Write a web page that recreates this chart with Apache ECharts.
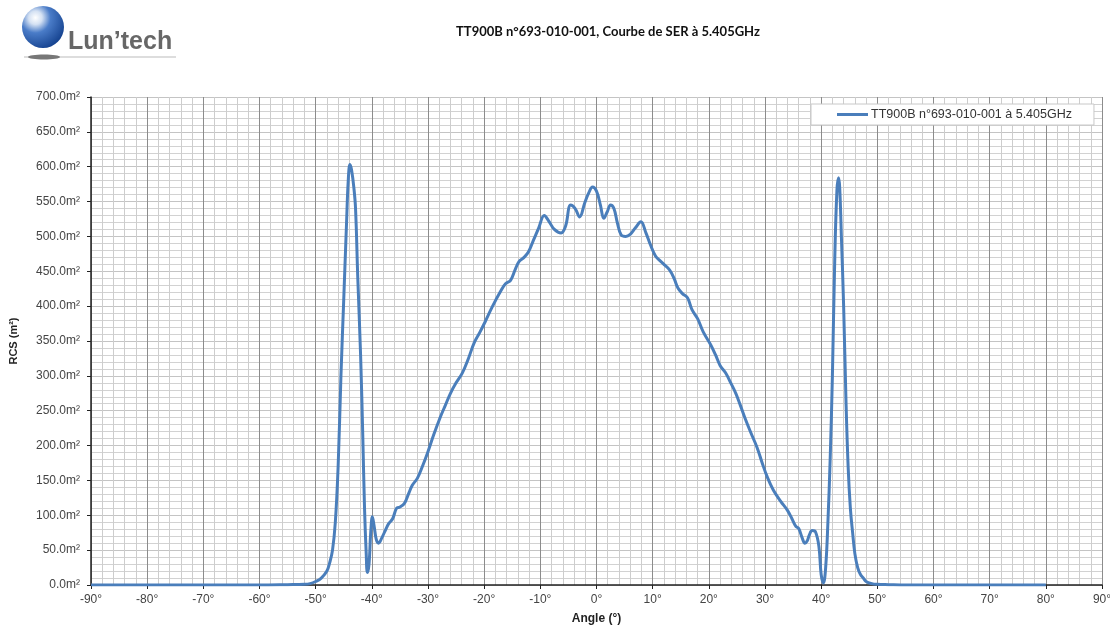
<!DOCTYPE html>
<html>
<head>
<meta charset="utf-8">
<script src="https://cdn.jsdelivr.net/npm/echarts@6/dist/echarts.min.js"></script>
<style>html,body{margin:0;padding:0;background:#fff;}#c{width:1110px;height:627px;}</style>
</head>
<body>
<div id="c"></div>
<script>
// ---- data ----
const angles = [
  -90, -80, -70, -60, -55, -52, -51, -50, -49, -48, -47.5, -47, -46.5, -46, -45.5, -45, -44.5, -44.2, -43.9, -43.6, -43.2, -42.9, -42.5, -42, -41.6, -41.3, -41, -40.8, -40.5, -40.2, -39.9, -39.6, -39.2, -38.8, -38.2, -37.5, -37, -36.3, -35.6, -35, -34.2, -33.5, -32.8, -31.9, -31, -30.1, -29, -27.8, -26.9, -26, -25, -23.9, -22.8, -21.8, -20.8, -19.8, -18.5, -17.1, -16.2, -15.3, -14.5, -13.8, -12.9, -12.1, -11.2, -10.3, -9.3, -8.5, -7.5, -6.3, -5.5, -4.6, -3.8, -3, -2.1, -1.4, -0.7, 0, 0.7, 1.3, 1.9, 2.5, 3.1, 3.7, 4.4, 5.2, 6, 6.9, 7.9, 8.8, 9.6, 10.5, 11.2, 12, 13, 13.8, 14.5, 15.3, 16.2, 17, 18, 19, 20.3, 21.2, 22, 23, 23.9, 24.8, 25.6, 26.5, 27.5, 28.6, 29.5, 30.4, 31.5, 32.8, 34, 34.8, 35.5, 36, 36.6, 37.1, 37.5, 37.9, 38.4, 39, 39.6, 40, 40.4, 40.8, 41.2, 41.6, 42, 42.4, 42.8, 43.1, 43.3, 43.6, 44, 44.4, 44.8, 45.2, 45.6, 46, 46.5, 47, 47.5, 48, 49, 50, 52, 55, 60, 70, 80, 90
];
const rcs = [
  0, 0, 0, 0, 0.5, 1, 2, 5, 10, 20, 32, 50, 90, 170, 300, 410, 520, 580, 603, 595, 570, 540, 440, 330, 210, 110, 45, 18, 30, 75, 98, 85, 65, 60, 68, 80, 88, 95, 110, 112, 117, 130, 143, 153, 170, 189, 215, 241, 258, 275, 290, 304, 325, 347, 362, 378, 400, 421, 432, 437, 452, 464, 470, 478, 495, 512, 530, 522, 510, 505, 515, 545, 540, 528, 548, 562, 571, 565, 545, 526, 535, 545, 540, 520, 502, 500, 503, 512, 521, 505, 488, 472, 466, 460, 452, 440, 426, 418, 412, 395, 382, 363, 345, 330, 315, 304, 290, 275, 258, 238, 218, 197, 175, 155, 136, 120, 107, 95, 84, 81, 68, 60, 63, 72, 78, 76, 55, 15, 3, 25, 90, 180, 300, 460, 565, 584, 570, 500, 400, 270, 170, 110, 75, 45, 25, 15, 10, 5, 2, 1, 0.5, 0, 0, 0, 0
];
const seriesName = 'TT900B n°693-010-001 à 5.405GHz';
const chartTitle = 'TT900B n°693-010-001, Courbe de SER à 5.405GHz';
const xAxisName = 'Angle (°)';
const yAxisName = 'RCS (m²)';
const logoText = 'Lun\u2019tech';

const points = angles.map((a, i) => [a, rcs[i]]);

const chart = echarts.init(document.getElementById('c'));
chart.setOption({
  animation: false,
  backgroundColor: '#fff',
  title: {
    text: chartTitle,
    left: 603, top: 20, textAlign: 'center',
    textStyle: { fontFamily: 'Lato', fontWeight: 'bold', fontSize: 13, color: '#111' }
  },
  graphic: [
    { type: 'line', shape: { x1: 24, y1: 57, x2: 176, y2: 57 }, style: { stroke: '#bbb', lineWidth: 1 } },
    { type: 'ellipse', shape: { cx: 44, cy: 57, rx: 16, ry: 2.5 }, style: { fill: '#777' } },
    { type: 'circle', shape: { cx: 43, cy: 27, r: 21 },
      style: { fill: new echarts.graphic.RadialGradient(0.32, 0.28, 0.8, [
        { offset: 0, color: '#ffffff' }, { offset: 0.2, color: '#d4e1f3' },
        { offset: 0.45, color: '#4a7cc8' }, { offset: 1, color: '#123f8c' }]) } },
    { type: 'text', left: 68, top: 30, style: { text: logoText, font: 'bold 25px "Liberation Sans", Arial', fill: '#676767' } }
  ],
  legend: {
    left: 811, top: 104,
    padding: [4, 22, 4, 26],
    backgroundColor: '#fff', borderColor: '#c8c8c8', borderWidth: 1,
    itemWidth: 31, itemHeight: 3, itemGap: 4,
    icon: 'rect',
    textStyle: { fontFamily: '"Liberation Sans", Arial', fontSize: 12.5, color: '#333', padding: [0, 0, 0, -2] },
    data: [seriesName]
  },
  grid: { left: 91, right: 8, top: 97, bottom: 42, containLabel: false, outerBoundsMode: 'none' },
  xAxis: {
    type: 'value', min: -90, max: 90, interval: 10,
    name: xAxisName, nameLocation: 'middle', nameGap: 28,
    nameTextStyle: { fontFamily: '"Liberation Sans", Arial', fontWeight: 'bold', fontSize: 12, color: '#222' },
    axisLine: { show: true, onZero: false, lineStyle: { color: '#222', width: 1.5 } },
    axisTick: { show: true, length: 4, lineStyle: { color: '#222' } },
    minorTick: { show: false, splitNumber: 5 },
    axisLabel: { margin: 9, fontFamily: '"Liberation Sans", Arial', fontSize: 12, color: '#444', formatter: v => v + '°' },
    splitLine: { show: true, lineStyle: { color: '#8c8c8c', width: 1 } },
    minorSplitLine: { show: true, lineStyle: { color: '#cdcdcd', width: 1 } }
  },
  yAxis: {
    type: 'value', min: 0, max: 700, interval: 50,
    name: yAxisName, nameLocation: 'middle', nameGap: 72,
    nameTextStyle: { fontFamily: '"Liberation Sans", Arial', fontWeight: 'bold', fontSize: 11, color: '#222' },
    axisLine: { show: true, onZero: false, lineStyle: { color: '#222', width: 1.5 } },
    axisTick: { show: true, length: 4, lineStyle: { color: '#222' } },
    minorTick: { show: false, splitNumber: 5 },
    axisLabel: { margin: 11, fontFamily: '"Liberation Sans", Arial', fontSize: 12, color: '#444', formatter: v => v.toFixed(1) + 'm²' },
    splitLine: { show: true, lineStyle: { color: '#c4c4c4', width: 1 } },
    minorSplitLine: { show: true, lineStyle: { color: '#d2d2d2', width: 1 } }
  },
  series: [{
    name: seriesName, type: 'line', data: points,
    smooth: 0.4, symbol: 'none',
    lineStyle: { color: '#4a7ebb', width: 3 },
    itemStyle: { color: '#4a7ebb' },
    z: 5
  }]
});
</script>
</body>
</html>
